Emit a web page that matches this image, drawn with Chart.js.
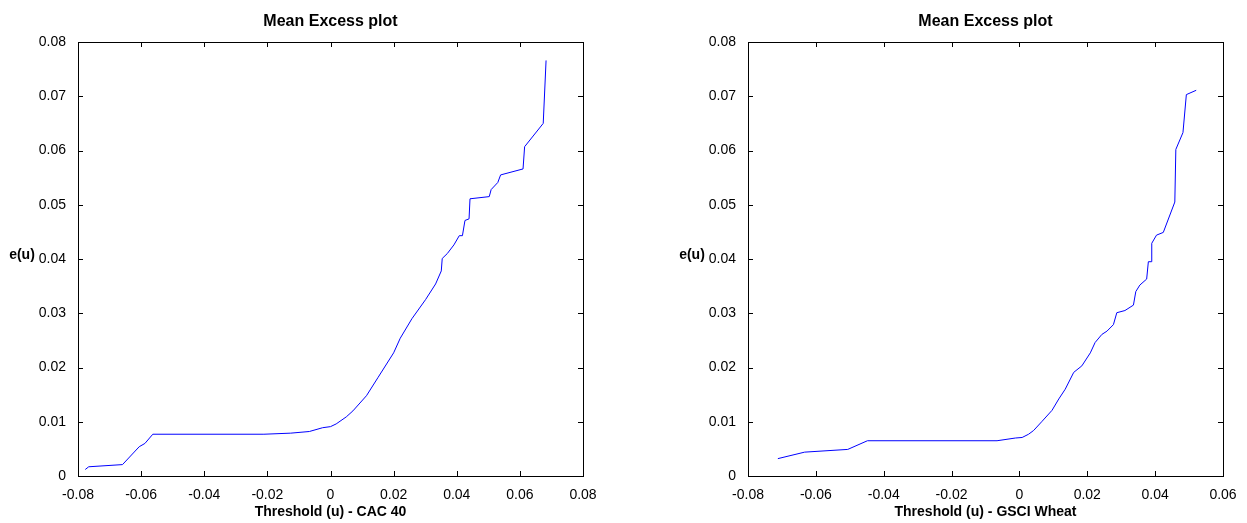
<!DOCTYPE html>
<html>
<head>
<script src="https://cdn.jsdelivr.net/npm/chart.js@4"></script>
<style>
  body { margin: 0; background: #fff; }
  .box { position: absolute; top: 0; height: 523px; }
</style>
</head>
<body>
<div class="box" style="left:0;width:620px"><canvas id="c1"></canvas></div>
<div class="box" style="left:650px;width:597px"><canvas id="c2"></canvas></div>
<script>
// CAC 40 mean excess
const cacU = [-0.0777, -0.0766, -0.0659, -0.0606, -0.0588, -0.0563, -0.0211, -0.0126, -0.0067, -0.0025, 0, 0.0018, 0.005, 0.0071, 0.0114, 0.0151, 0.02, 0.0221, 0.0258, 0.0301, 0.0333, 0.0351, 0.0354, 0.037, 0.0391, 0.0408, 0.0418, 0.0426, 0.0439, 0.0442, 0.0503, 0.0509, 0.053, 0.0539, 0.061, 0.0615, 0.0674, 0.0683];
const cacE = [0.0012, 0.0017, 0.0021, 0.0054, 0.006, 0.0077, 0.0077, 0.0079, 0.0082, 0.0089, 0.0091, 0.0096, 0.0109, 0.012, 0.0148, 0.0182, 0.0227, 0.0254, 0.029, 0.0325, 0.0354, 0.0378, 0.0401, 0.041, 0.0426, 0.0443, 0.0443, 0.0471, 0.0474, 0.0511, 0.0515, 0.0528, 0.0541, 0.0555, 0.0566, 0.0607, 0.065, 0.0766];

// GSCI Wheat mean excess
const wheatU = [-0.0712, -0.0633, -0.0506, -0.0448, -0.0066, -0.0012, 0.0008, 0.0027, 0.0042, 0.0067, 0.0096, 0.0116, 0.0135, 0.016, 0.0184, 0.0209, 0.0223, 0.0243, 0.0258, 0.0277, 0.0287, 0.0311, 0.0336, 0.0343, 0.0355, 0.0375, 0.038, 0.0388, 0.039, 0.0404, 0.0424, 0.0458, 0.0461, 0.0482, 0.0492, 0.0521];
const wheatE = [0.0032, 0.0044, 0.0049, 0.0065, 0.0065, 0.007, 0.0071, 0.0077, 0.0084, 0.0101, 0.0121, 0.0142, 0.016, 0.0191, 0.0203, 0.0227, 0.0246, 0.0261, 0.0267, 0.0279, 0.0301, 0.0305, 0.0315, 0.034, 0.0352, 0.0363, 0.0395, 0.0395, 0.0429, 0.0444, 0.0449, 0.0505, 0.0602, 0.0633, 0.0703, 0.0711];

const FONT = "'Liberation Sans', Arial, sans-serif";

// matlab style: inward ticks on all four sides + title + horizontal e(u)
const matlabBox = {
  id: "matlabBox",
  afterDraw(chart) {
    const ctx = chart.ctx;
    const a = chart.chartArea;
    const x = chart.scales.x, y = chart.scales.y;
    ctx.save();
    ctx.strokeStyle = "#000";
    ctx.lineWidth = 1;
    ctx.strokeRect(a.left + 0.5, a.top + 0.5, a.right - a.left, a.bottom - a.top);
    ctx.beginPath();
    x.ticks.forEach(t => {
      const px = Math.round(x.getPixelForValue(t.value)) + 0.5;
      ctx.moveTo(px, a.bottom); ctx.lineTo(px, a.bottom - 5);
      ctx.moveTo(px, a.top); ctx.lineTo(px, a.top + 5);
    });
    y.ticks.forEach(t => {
      const py = Math.round(y.getPixelForValue(t.value)) + 0.5;
      ctx.moveTo(a.left, py); ctx.lineTo(a.left + 5, py);
      ctx.moveTo(a.right, py); ctx.lineTo(a.right - 5, py);
    });
    ctx.stroke();
    ctx.fillStyle = "#000";
    ctx.font = "bold 16px " + FONT;
    ctx.textAlign = "center";
    ctx.textBaseline = "middle";
    ctx.fillText("Mean Excess plot", (a.left + a.right) / 2, a.top - 20);
    ctx.font = "bold 14px " + FONT;
    ctx.fillText("e(u)", a.left - 56, (a.top + a.bottom) / 2 - 4);
    ctx.restore();
  }
};

function makeChart(id, us, es, xMax, xLabel, leftW, rightPad) {
  const pts = us.map((u, i) => ({ x: u, y: es[i] }));
  return new Chart(document.getElementById(id), {
    type: "line",
    data: { datasets: [{ data: pts, borderColor: "#0000ff", borderWidth: 1, pointRadius: 0, tension: 0 }] },
    options: {
      responsive: true,
      maintainAspectRatio: false,
      animation: false,
      layout: { padding: { top: 42, right: rightPad, left: 0, bottom: 0 } },
      plugins: { legend: { display: false }, tooltip: { enabled: false } },
      scales: {
        x: {
          type: "linear", min: -0.08, max: xMax,
          ticks: { stepSize: 0.02, color: "#000", font: { size: 14, family: FONT }, maxRotation: 0, padding: 3,
                   callback: v => (Math.abs(v) < 1e-9 ? "0" : +v.toFixed(2)) },
          grid: { display: false },
          border: { display: false },
          title: { display: true, text: xLabel, color: "#000", font: { size: 14, weight: "bold", family: FONT }, padding: { top: 0, bottom: 2 } },
          afterFit: s => { s.height = 47; }
        },
        y: {
          min: 0, max: 0.08,
          ticks: { stepSize: 0.01, color: "#000", font: { size: 14, family: FONT }, padding: 4,
                   callback: v => (Math.abs(v) < 1e-9 ? "0" : +v.toFixed(2)) },
          grid: { display: false },
          border: { display: false },
          afterFit: s => { s.width = leftW; }
        }
      }
    },
    plugins: [matlabBox]
  });
}

makeChart("c1", cacU, cacE, 0.08, "Threshold (u) - CAC 40", 78, 37);
makeChart("c2", wheatU, wheatE, 0.06, "Threshold (u) - GSCI Wheat", 98, 24);
</script>
</body>
</html>
